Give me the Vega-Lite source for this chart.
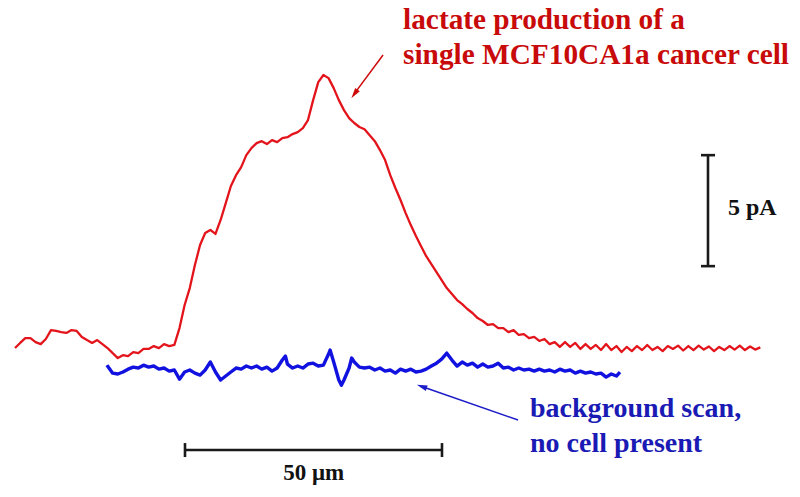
{
  "$schema": "https://vega.github.io/schema/vega-lite/v6.json",
  "width": 800,
  "height": 497,
  "autosize": {"type": "fit", "contains": "padding"},
  "padding": 0,
  "background": "white",
  "config": {"view": {"stroke": null}},
  "datasets": {
    "cell": [
      {"x":0,"y":0.09},{"x":1,"y":0.32},{"x":2,"y":0.54},{"x":3,"y":0.54},{"x":4,"y":0.36},{"x":5,"y":0.27},{"x":6,"y":0.5},{"x":7,"y":0.9},{"x":8,"y":0.86},{"x":9,"y":0.81},
      {"x":10,"y":0.77},{"x":11,"y":0.9},{"x":12,"y":0.86},{"x":13,"y":0.59},{"x":14,"y":0.45},{"x":15,"y":0.32},{"x":16,"y":0.45},{"x":17,"y":0.27},{"x":18,"y":0.09},{"x":19,"y":-0.14},
      {"x":20,"y":-0.36},{"x":21,"y":-0.23},{"x":22,"y":-0.27},{"x":23,"y":-0.09},{"x":24,"y":-0.14},{"x":25,"y":0.05},{"x":26,"y":0.05},{"x":27,"y":0.18},{"x":28,"y":0.09},{"x":29,"y":0.27},
      {"x":30,"y":0.18},{"x":31,"y":0.23},{"x":32,"y":0.99},{"x":33,"y":2.03},{"x":34,"y":2.79},{"x":35,"y":3.83},{"x":36,"y":4.73},{"x":37,"y":5.27},{"x":38,"y":5.41},{"x":39,"y":5.23},
      {"x":40,"y":5.86},{"x":41,"y":6.62},{"x":42,"y":7.39},{"x":43,"y":7.88},{"x":44,"y":8.24},{"x":45,"y":8.78},{"x":46,"y":9.1},{"x":47,"y":9.32},{"x":48,"y":9.41},{"x":49,"y":9.28},
      {"x":50,"y":9.46},{"x":51,"y":9.37},{"x":52,"y":9.55},{"x":53,"y":9.59},{"x":54,"y":9.73},{"x":55,"y":9.82},{"x":56,"y":10.0},{"x":57,"y":10.36},{"x":58,"y":11.26},{"x":59,"y":12.07},
      {"x":60,"y":12.39},{"x":61,"y":12.25},{"x":62,"y":11.8},{"x":63,"y":11.26},{"x":64,"y":10.81},{"x":65,"y":10.45},{"x":66,"y":10.23},{"x":67,"y":10.05},{"x":68,"y":9.95},{"x":69,"y":9.68},
      {"x":70,"y":9.41},{"x":71,"y":9.01},{"x":72,"y":8.56},{"x":73,"y":7.88},{"x":74,"y":7.3},{"x":75,"y":6.76},{"x":76,"y":6.17},{"x":77,"y":5.63},{"x":78,"y":5.14},{"x":79,"y":4.68},
      {"x":80,"y":4.23},{"x":81,"y":3.87},{"x":82,"y":3.51},{"x":83,"y":3.15},{"x":84,"y":2.79},{"x":85,"y":2.52},{"x":86,"y":2.25},{"x":87,"y":2.07},{"x":88,"y":1.85},{"x":89,"y":1.67},
      {"x":90,"y":1.44},{"x":91,"y":1.31},{"x":92,"y":1.13},{"x":93,"y":1.17},{"x":94,"y":0.99},{"x":95,"y":0.99},{"x":96,"y":0.81},{"x":97,"y":0.9},{"x":98,"y":0.68},{"x":99,"y":0.72},
      {"x":100,"y":0.54},{"x":101,"y":0.59},{"x":102,"y":0.41},{"x":103,"y":0.5},{"x":104,"y":0.27},{"x":105,"y":0.36},{"x":106,"y":0.14},{"x":107,"y":0.36},{"x":108,"y":0.14},{"x":109,"y":0.32},
      {"x":110,"y":0.05},{"x":111,"y":0.27},{"x":112,"y":0.05},{"x":113,"y":0.23},{"x":114,"y":0.0},{"x":115,"y":0.27},{"x":116,"y":0.0},{"x":117,"y":0.18},{"x":118,"y":-0.09},{"x":119,"y":0.14},
      {"x":120,"y":-0.05},{"x":121,"y":0.18},{"x":122,"y":0.0},{"x":123,"y":0.23},{"x":124,"y":0.0},{"x":125,"y":0.14},{"x":126,"y":-0.05},{"x":127,"y":0.18},{"x":128,"y":0.05},{"x":129,"y":0.2},
      {"x":130,"y":-0.02},{"x":131,"y":0.18},{"x":132,"y":0.0},{"x":133,"y":0.2},{"x":134,"y":0.02},{"x":135,"y":0.16},{"x":136,"y":-0.05},{"x":137,"y":0.14},{"x":138,"y":0.0},{"x":139,"y":0.18},
      {"x":140,"y":0.02},{"x":141,"y":0.2},{"x":142,"y":0.0},{"x":143,"y":0.16},{"x":144,"y":0.02},{"x":145,"y":0.12}
    ],
    "background": [
      {"x":17.9,"y":-0.68},{"x":18,"y":-0.72},{"x":19,"y":-1.04},{"x":20,"y":-1.08},{"x":21,"y":-0.99},{"x":22,"y":-0.86},{"x":23,"y":-0.77},{"x":24,"y":-0.81},{"x":25,"y":-0.68},{"x":26,"y":-0.77},
      {"x":27,"y":-0.72},{"x":28,"y":-0.86},{"x":29,"y":-0.81},{"x":30,"y":-0.95},{"x":31,"y":-0.9},{"x":32,"y":-1.31},{"x":33,"y":-0.99},{"x":34,"y":-0.9},{"x":35,"y":-1.04},{"x":36,"y":-1.13},
      {"x":37,"y":-0.9},{"x":38,"y":-0.54},{"x":39,"y":-0.99},{"x":40,"y":-1.35},{"x":41,"y":-1.17},{"x":42,"y":-0.99},{"x":43,"y":-0.81},{"x":44,"y":-0.86},{"x":45,"y":-0.72},{"x":46,"y":-0.81},
      {"x":47,"y":-0.72},{"x":48,"y":-0.86},{"x":49,"y":-0.77},{"x":50,"y":-0.95},{"x":51,"y":-0.81},{"x":52,"y":-0.45},{"x":52.6,"y":-0.27},{"x":53,"y":-0.63},{"x":54,"y":-0.81},{"x":55,"y":-0.72},
      {"x":56,"y":-0.81},{"x":57,"y":-0.63},{"x":58,"y":-0.59},{"x":59,"y":-0.72},{"x":60,"y":-0.68},{"x":61,"y":-0.18},{"x":61.3,"y":0.0},{"x":62,"y":-0.54},{"x":63,"y":-1.35},{"x":63.5,"y":-1.58},
      {"x":64,"y":-1.35},{"x":65,"y":-0.81},{"x":65.5,"y":-0.36},{"x":66,"y":-0.54},{"x":67,"y":-0.77},{"x":68,"y":-0.81},{"x":69,"y":-0.77},{"x":70,"y":-0.9},{"x":71,"y":-0.81},{"x":72,"y":-0.95},
      {"x":73,"y":-0.9},{"x":74,"y":-1.04},{"x":75,"y":-0.86},{"x":76,"y":-0.95},{"x":77,"y":-0.86},{"x":78,"y":-0.99},{"x":79,"y":-0.95},{"x":80,"y":-0.86},{"x":81,"y":-0.72},{"x":82,"y":-0.59},
      {"x":83,"y":-0.41},{"x":84,"y":-0.14},{"x":85,"y":-0.45},{"x":86,"y":-0.72},{"x":87,"y":-0.54},{"x":88,"y":-0.68},{"x":89,"y":-0.59},{"x":90,"y":-0.77},{"x":91,"y":-0.63},{"x":92,"y":-0.77},
      {"x":93,"y":-0.72},{"x":94,"y":-0.59},{"x":95,"y":-0.81},{"x":96,"y":-0.77},{"x":97,"y":-0.9},{"x":98,"y":-0.81},{"x":99,"y":-0.9},{"x":100,"y":-0.86},{"x":101,"y":-0.95},{"x":102,"y":-0.86},
      {"x":103,"y":-0.95},{"x":104,"y":-0.9},{"x":105,"y":-0.99},{"x":106,"y":-0.86},{"x":107,"y":-0.95},{"x":108,"y":-0.9},{"x":109,"y":-1.04},{"x":110,"y":-0.95},{"x":111,"y":-1.04},{"x":112,"y":-0.99},
      {"x":113,"y":-1.08},{"x":114,"y":-1.04},{"x":115,"y":-1.22},{"x":116,"y":-1.08},{"x":117,"y":-1.17},{"x":117.7,"y":-0.99}
    ],
    "bars": [
      {"x1":33.07,"y1":-4.5,"x2":83.07,"y2":-4.5},
      {"x1":33.07,"y1":-4.19,"x2":33.07,"y2":-4.82},
      {"x1":83.07,"y1":-4.19,"x2":83.07,"y2":-4.82},
      {"x1":134.82,"y1":3.78,"x2":134.82,"y2":8.78},
      {"x1":133.46,"y1":8.78,"x2":136.19,"y2":8.78},
      {"x1":133.46,"y1":3.78,"x2":136.19,"y2":3.78}
    ],
    "redArrow": [{"x1":71.6,"y1":13.29,"x2":65.95,"y2":11.53}],
    "redHead": [{"x":66.03,"y":11.54}],
    "blueArrow": [{"x1":97.86,"y1":-3.15,"x2":79.14,"y2":-1.64}],
    "blueHead": [{"x":79.14,"y":-1.64}],
    "redText": [
      {"x":75.5,"y":14.46,"t":"lactate production of a"},
      {"x":75.5,"y":12.88,"t":"single MCF10CA1a cancer cell"}
    ],
    "blueText": [
      {"x":100.2,"y":-3.02,"t":"background scan,"},
      {"x":100.2,"y":-4.59,"t":"no cell present"}
    ],
    "scaleText": [
      {"x":138.7,"y":6.08,"t":"5 pA"}
    ],
    "umText": [
      {"x":58.1,"y":-5.86,"t":"50 μm"}
    ]
  },
  "encoding": {
    "x": {"type": "quantitative", "scale": {"domain": [-2.92, 152.72], "nice": false, "zero": false}, "axis": null},
    "y": {"type": "quantitative", "scale": {"domain": [-6.62, 15.77], "nice": false, "zero": false}, "axis": null}
  },
  "layer": [
    {
      "data": {"name": "cell"},
      "mark": {"type": "line", "color": "#e3141b", "strokeWidth": 2.3, "strokeJoin": "round"},
      "encoding": {"x": {"field": "x", "type": "quantitative"}, "y": {"field": "y", "type": "quantitative"}}
    },
    {
      "data": {"name": "background"},
      "mark": {"type": "line", "color": "#1212e0", "strokeWidth": 3.4, "strokeJoin": "round"},
      "encoding": {"x": {"field": "x", "type": "quantitative"}, "y": {"field": "y", "type": "quantitative"}}
    },
    {
      "data": {"name": "bars"},
      "mark": {"type": "rule", "color": "#1a1a1a", "strokeWidth": 2.6},
      "encoding": {"x": {"field": "x1", "type": "quantitative"}, "y": {"field": "y1", "type": "quantitative"}, "x2": {"field": "x2"}, "y2": {"field": "y2"}}
    },
    {
      "data": {"name": "redArrow"},
      "mark": {"type": "rule", "color": "#cc0a0a", "strokeWidth": 1.5},
      "encoding": {"x": {"field": "x1", "type": "quantitative"}, "y": {"field": "y1", "type": "quantitative"}, "x2": {"field": "x2"}, "y2": {"field": "y2"}}
    },
    {
      "data": {"name": "redHead"},
      "mark": {"type": "point", "shape": "M0,-1L0.55,1L-0.55,1Z", "filled": true, "color": "#cc0a0a", "size": 110, "angle": 216, "opacity": 1, "strokeWidth": 0},
      "encoding": {"x": {"field": "x", "type": "quantitative"}, "y": {"field": "y", "type": "quantitative"}}
    },
    {
      "data": {"name": "blueArrow"},
      "mark": {"type": "rule", "color": "#1c1cc8", "strokeWidth": 1.5},
      "encoding": {"x": {"field": "x1", "type": "quantitative"}, "y": {"field": "y1", "type": "quantitative"}, "x2": {"field": "x2"}, "y2": {"field": "y2"}}
    },
    {
      "data": {"name": "blueHead"},
      "mark": {"type": "point", "shape": "M0,-1L0.55,1L-0.55,1Z", "filled": true, "color": "#1c1cc8", "size": 110, "angle": 289, "opacity": 1, "strokeWidth": 0},
      "encoding": {"x": {"field": "x", "type": "quantitative"}, "y": {"field": "y", "type": "quantitative"}}
    },
    {
      "data": {"name": "redText"},
      "mark": {"type": "text", "align": "left", "baseline": "alphabetic", "font": "Liberation Serif", "fontWeight": "bold", "fontSize": 29.3, "color": "#c80a0a"},
      "encoding": {"x": {"field": "x", "type": "quantitative"}, "y": {"field": "y", "type": "quantitative"}, "text": {"field": "t"}}
    },
    {
      "data": {"name": "blueText"},
      "mark": {"type": "text", "align": "left", "baseline": "alphabetic", "font": "Liberation Serif", "fontWeight": "bold", "fontSize": 28, "color": "#1a1ab4"},
      "encoding": {"x": {"field": "x", "type": "quantitative"}, "y": {"field": "y", "type": "quantitative"}, "text": {"field": "t"}}
    },
    {
      "data": {"name": "scaleText"},
      "mark": {"type": "text", "align": "left", "baseline": "alphabetic", "font": "Liberation Serif", "fontWeight": "bold", "fontSize": 24, "color": "#111111"},
      "encoding": {"x": {"field": "x", "type": "quantitative"}, "y": {"field": "y", "type": "quantitative"}, "text": {"field": "t"}}
    },
    {
      "data": {"name": "umText"},
      "mark": {"type": "text", "align": "center", "baseline": "alphabetic", "font": "Liberation Serif", "fontWeight": "bold", "fontSize": 23, "color": "#111111"},
      "encoding": {"x": {"field": "x", "type": "quantitative"}, "y": {"field": "y", "type": "quantitative"}, "text": {"field": "t"}}
    }
  ]
}
